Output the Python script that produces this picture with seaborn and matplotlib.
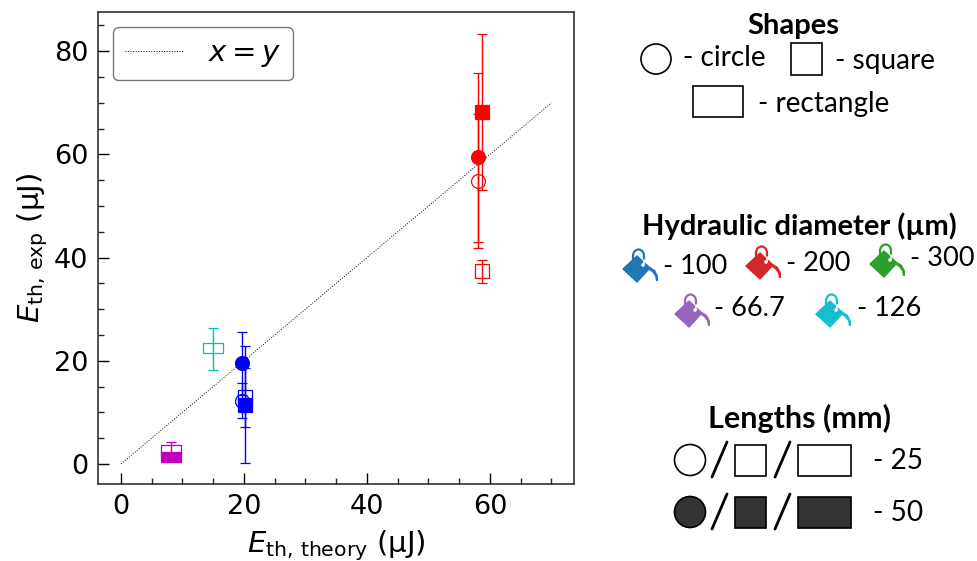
import matplotlib
matplotlib.use('Agg')
import matplotlib.pyplot as plt
import numpy as np
import seaborn as sns
from matplotlib.patches import Circle, Rectangle, Polygon, PathPatch, Arc
from matplotlib.path import Path

sns.set_style('ticks')
plt.rcParams['font.family'] = ['DejaVu Sans']

# name, x, y, err low, err high, marker, filled, colour
names = ['red_sq_50', 'red_ci_50', 'red_ci_25', 'red_sq_25', 'cyan_re_25',
         'blue_ci_25', 'blue_sq_25', 'blue_ci_50', 'blue_sq_50', 'mag_re_25', 'mag_re_50']
e_theory = [58.7, 58.1, 58.1, 58.7, 14.9, 19.6, 20.2, 19.6, 20.2, 8.1, 8.1]
e_exp = [68.2, 59.4, 54.8, 37.3, 22.4, 12.2, 12.9, 19.5, 11.5, 2.7, 1.4]
err_low = [15.1, 16.4, 13.0, 2.3, 4.2, 3.3, 5.7, 6.1, 11.3, 1.6, 0.5]
err_high = [15.2, 16.4, 13.0, 2.2, 4.0, 3.4, 5.7, 6.1, 11.4, 1.6, 0.5]
shapes = ['s', 'o', 'o', 's', 'r', 'o', 's', 'o', 's', 'r', 'r']
filled = [True, True, False, False, False, False, False, True, True, False, True]
colours = ['r', 'r', 'r', 'r', 'c', 'b', 'b', 'b', 'b', 'm', 'm']

line_xy = [0, 70]

hydraulic_labels = ['- 100', '- 200', '- 300', '- 66.7', '- 126']
hydraulic_colours = ['#1f77b4', '#d62728', '#2ca02c', '#9467bd', '#17becf']

rect_marker = Path([(-1, -0.5), (1, -0.5), (1, 0.5), (-1, 0.5), (-1, -0.5)], closed=True)

fig = plt.figure(figsize=(9.77, 5.61), dpi=100)
ax = fig.add_axes([98 / 977, 1 - 484 / 561, 476 / 977, 472 / 561])

sns.lineplot(x=line_xy, y=line_xy, ax=ax, color='k', linestyle=':', linewidth=0.7, label='$x = y$')

for i in range(len(names)):
    is_rect = shapes[i] == 'r'
    ax.errorbar(e_theory[i], e_exp[i], yerr=[[err_low[i]], [err_high[i]]], color=colours[i],
                marker=rect_marker if is_rect else shapes[i], ms=14.5 if is_rect else 10,
                mfc=colours[i] if filled[i] else 'none', mec=colours[i], mew=0.9,
                elinewidth=1, capsize=3.3, capthick=1, ls='none', zorder=3 + filled[i])

ax.set_xlim(-3.74, 73.66)
ax.set_ylim(-3.9, 87.6)
ax.set_xticks([0, 20, 40, 60])
ax.set_yticks([0, 20, 40, 60, 80])
ax.set_xticks(np.arange(0, 75, 5), minor=True)
ax.set_yticks(np.arange(0, 90, 5), minor=True)
ax.tick_params(which='major', direction='in', length=8, width=1, labelsize=19.5, colors='k', pad=7)
ax.tick_params(which='minor', direction='in', length=4, width=1)
for s in ax.spines.values():
    s.set_linewidth(1.1)
    s.set_color('#222222')
ax.set_xlabel(r'$E_{\mathrm{th,\,theory}}$ (µJ)', fontsize=21, labelpad=6, color='k')
ax.set_ylabel(r'$E_{\mathrm{th,\,exp}}$ (µJ)', fontsize=21, labelpad=3, color='k')
leg = ax.legend(loc='upper left', fontsize=21, handlelength=2.05, borderpad=0.4, handletextpad=0.8,
                bbox_to_anchor=(0.0315, 0.968), borderaxespad=0, edgecolor='#777777', framealpha=1)
for t in leg.get_texts():
    t.set_color('k')

# side panel drawn in pixel coordinates
key = fig.add_axes([0, 0, 1, 1], zorder=-1)
key.set_xlim(0, 977)
key.set_ylim(561, 0)
key.axis('off')


def label(x, y, s, size=20.2, weight='normal', ha='left'):
    key.text(x, y + 1, s, fontsize=size, fontweight=weight, ha=ha, va='center', family='Lato', color='k')


def bucket(cx, cy, col):
    key.add_patch(Polygon([(cx - 17, cy + 4), (cx - 3, cy - 9), (cx + 10, cy + 3), (cx - 3, cy + 17)],
                          closed=True, fc=col, ec=col, lw=1, joinstyle='round'))
    key.add_patch(Arc((cx - 1.5, cy - 9), 11, 13, theta1=180, theta2=360, ec=col, lw=1.6))
    key.plot([cx - 7, cx - 7], [cy - 9, cy - 5], color=col, lw=1.6)
    key.plot([cx + 4, cx + 4], [cy - 9, cy - 6], color=col, lw=1.6)
    key.plot([cx + 4, cx + 4], [cy - 5, cy - 1], color='w', lw=1.1)
    key.add_patch(Circle((cx + 3, cy), 1.8, fc='w', ec='none'))
    drip = Path([(cx + 10, cy + 2), (cx + 15, cy + 5), (cx + 18, cy + 11), (cx + 18, cy + 16),
                 (cx + 16, cy + 16), (cx + 15, cy + 11), (cx + 12, cy + 7), (cx + 9, cy + 5), (cx + 10, cy + 2)])
    key.add_patch(PathPatch(drip, fc=col, ec='none'))


label(793, 25, 'Shapes', 21, 'bold', 'center')
key.add_patch(Circle((656, 59), 15, fc='w', ec='k', lw=1.2))
label(683, 57, '- circle')
key.add_patch(Rectangle((791, 43), 31, 32, fc='w', ec='k', lw=1.2))
label(835, 60, '- square')
key.add_patch(Rectangle((693, 86), 50, 31, fc='w', ec='k', lw=1.2))
label(758, 103, '- rectangle')

label(799.5, 225, 'Hydraulic diameter (µm)', 21, 'bold', 'center')
bucket_xy = [(640, 265), (763, 262), (887, 260), (692, 310), (833, 310)]
text_xy = [(663, 265), (786, 262), (910, 257), (714, 307), (857, 307)]
for (bx, by), (tx, ty), t, c in zip(bucket_xy, text_xy, hydraulic_labels, hydraulic_colours):
    bucket(bx, by, c)
    label(tx, ty, t, size=19.5)

label(799.5, 417, 'Lengths (mm)', 22, 'bold', 'center')
for cy, fc, t in [(460, 'w', '- 25'), (512, '#333333', '- 50')]:
    key.add_patch(Circle((690, cy), 15.5, fc=fc, ec='k', lw=1.2))
    key.add_patch(Rectangle((735, cy - 15.5), 31, 31, fc=fc, ec='k', lw=1.2))
    key.add_patch(Rectangle((798, cy - 15.5), 53, 31, fc=fc, ec='k', lw=1.2))
    key.plot([712, 727], [cy + 17, cy - 18], color='k', lw=2)
    key.plot([775, 790], [cy + 17, cy - 18], color='k', lw=2)
    label(873, cy, t)

fig.savefig('out.png', dpi=100)
